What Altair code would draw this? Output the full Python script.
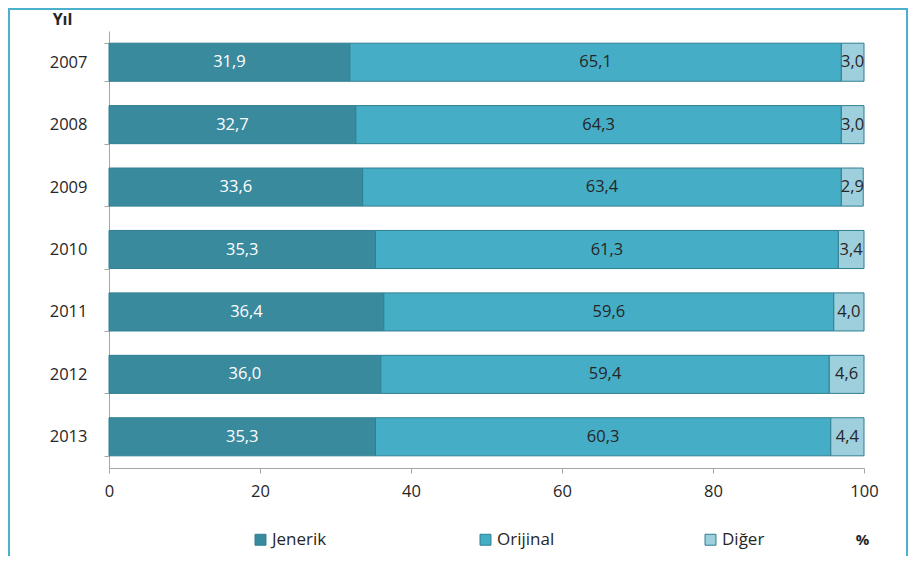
import altair as alt
import pandas as pd

years = ["2007", "2008", "2009", "2010", "2011", "2012", "2013"]
categories = ["Jenerik", "Orijinal", "Diğer"]
jenerik = [31.9, 32.7, 33.6, 35.3, 36.4, 36.0, 35.3]
orijinal = [65.1, 64.3, 63.4, 61.3, 59.6, 59.4, 60.3]
diger = [3.0, 3.0, 2.9, 3.4, 4.0, 4.6, 4.4]
colors = ["#3a8a9e", "#45aec6", "#9ecfdc"]
x_ticks = [0, 20, 40, 60, 80, 100]

rows = []
for series, vals in zip(categories, [jenerik, orijinal, diger]):
    for i, (y, v) in enumerate(zip(years, vals)):
        rows.append({"Yıl": y, "Seri": series, "value": v, "ord": categories.index(series)})
df = pd.DataFrame(rows)

FONT = "Open Sans"
W, H = 755, 437
PL, PT = 101, 23
TOTAL_W, TOTAL_H = 900, 548

base = alt.Chart(df).transform_stack(
    stack="value", as_=["start", "end"], groupby=["Yıl"], sort=[alt.SortField("ord", order="ascending")]
).transform_calculate(
    mid="(datum.start + datum.end) / 2",
    label="replace(format(datum.value, '.1f'), '.', ',')",
)

y_enc = alt.Y(
    "Yıl:N",
    sort=years,
    scale=alt.Scale(paddingInner=0.39, paddingOuter=0.195),
    axis=alt.Axis(
        title="Yıl", titleAngle=0, titleX=-47, titleY=-12, titleAlign="center",
        titleBaseline="middle", titleFont=FONT, titleFontSize=16, titleFontWeight="bold",
        titleColor="#262626",
        labelFont=FONT, labelFontSize=16.5, labelColor="#262626", labelPadding=17,
        tickBand="extent", tickSize=5, tickColor="#a6a6a6", domainColor="#a6a6a6",
    ),
)

bars = base.mark_bar(stroke="#2f7f92", strokeWidth=1).encode(
    x=alt.X(
        "start:Q",
        scale=alt.Scale(domain=[0, 100], nice=False),
        axis=alt.Axis(
            values=x_ticks, title="%", titleX=753, titleY=71, titleAlign="center",
            titleBaseline="middle", titleFont=FONT, titleFontSize=15, titleFontWeight="bold",
            titleColor="#262626", labelFont=FONT, labelFontSize=16.5, labelColor="#262626",
            labelPadding=10, labelFlush=False, tickSize=5, tickColor="#a6a6a6",
            domainColor="#a6a6a6", grid=False,
        ),
    ),
    x2="end:Q",
    y=y_enc,
    color=alt.Color(
        "Seri:N",
        sort=categories,
        scale=alt.Scale(domain=categories, range=colors),
        legend=alt.Legend(
            title=None, orient="none", legendX=143, legendY=500, direction="horizontal",
            columns=3, gridAlign="all", columnPadding=147, symbolType="square", symbolSize=120,
            symbolStrokeColor="#2f7f92", symbolStrokeWidth=1, labelFont=FONT, labelFontSize=17,
            labelColor="#262626", labelOffset=3,
        ),
    ),
    order=alt.Order("ord:Q"),
)

texts = base.mark_text(font=FONT, fontSize=16.5, baseline="middle", align="center").encode(
    x=alt.X("mid:Q"),
    y=alt.Y("Yıl:N", sort=years),
    text="label:N",
    color=alt.condition("datum.Seri == 'Jenerik'", alt.value("white"), alt.value("#262626")),
)

frame = alt.Chart(pd.DataFrame({"a": [0]})).mark_rect(
    fill=None, stroke="#4ab0cc", strokeWidth=2
).encode(
    x=alt.value(-PL + 1), x2=alt.value(TOTAL_W - PL - 1), y=alt.value(-PT + 1), y2=alt.value(TOTAL_H + 20)
)

chart = alt.layer(frame, bars, texts).properties(
    width=W, height=H,
    autosize=alt.AutoSizeParams(type="none"),
    padding={"left": PL, "top": PT, "right": TOTAL_W - PL - W, "bottom": TOTAL_H - PT - H},
).configure_view(stroke=None)

chart.save("out.html", embed_options={"renderer": "svg", "actions": False})
